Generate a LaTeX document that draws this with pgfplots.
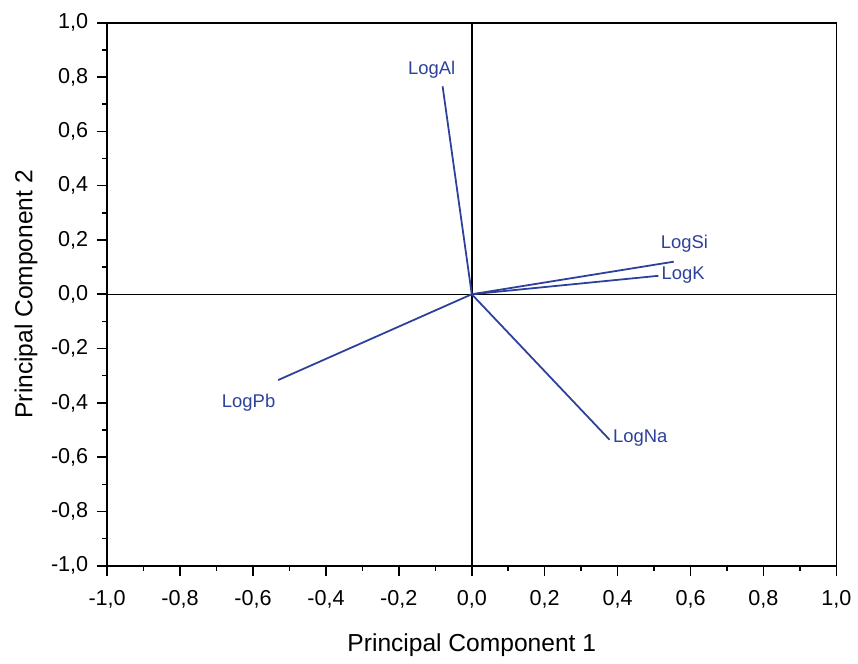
\documentclass[border=0pt]{standalone}
\usepackage{fontspec}
\setmainfont{Liberation Sans}
\usepackage{pgfplots}
\pgfplotsset{compat=1.18}
\definecolor{vec}{RGB}{45,65,155}
\begin{document}
\begin{tikzpicture}
\begin{axis}[
  name=ax,
  width=368pt, height=274pt, scale only axis,
  xmin=-1, xmax=1, ymin=-1, ymax=1,
  xtick={-1,-0.8,-0.6,-0.4,-0.2,0,0.2,0.4,0.6,0.8,1},
  ytick={-1,-0.8,-0.6,-0.4,-0.2,0,0.2,0.4,0.6,0.8,1},
  minor x tick num=1, minor y tick num=1,
  tick align=outside, xtick pos=lower, ytick pos=left,
  major tick length=5pt, minor tick length=2.5pt,
  tick style={black, line width=0.8pt},
  axis line style={line width=0.9pt},
  /pgf/number format/.cd, fixed, fixed zerofill, precision=1, use comma,
  assume math mode=true, /pgfplots/.cd,
  ticklabel style={font=\fontsize{10.9}{12}\selectfont},
  xticklabel style={yshift=-4pt},
  yticklabel style={xshift=-1pt},
  label style={font=\fontsize{12.4}{14}\selectfont},
  xlabel={Principal Component 1},
  ylabel={Principal Component 2},
  xlabel style={yshift=-6pt},
  ylabel style={yshift=0pt},
  clip=false,
]
\draw[black, line width=0.75pt] (axis cs:0,-1) -- (axis cs:0,1);
\draw[black, line width=0.75pt] (axis cs:-1,0) -- (axis cs:1,0);
\addplot[vec, line width=0.9pt] coordinates {(0,0) (-0.080,0.766)};
\addplot[vec, line width=0.9pt] coordinates {(0,0) (0.554,0.120)};
\addplot[vec, line width=0.9pt] coordinates {(0,0) (0.512,0.068)};
\addplot[vec, line width=0.9pt] coordinates {(0,0) (-0.531,-0.316)};
\addplot[vec, line width=0.9pt] coordinates {(0,0) (0.378,-0.536)};
\begin{scope}[every node/.style={text=vec, font=\fontsize{9.3}{11}\selectfont, inner sep=0pt}]
\node at (axis cs:-0.110,0.828) {LogAl};
\node at (axis cs:0.583,0.185) {LogSi};
\node at (axis cs:0.580,0.071) {LogK};
\node at (axis cs:-0.612,-0.400) {LogPb};
\node at (axis cs:0.462,-0.528) {LogNa};
\end{scope}
\end{axis}
\path ([yshift=11.5pt]ax.north);
\path ([xshift=-4pt]ax.outer west);
\end{tikzpicture}
\end{document}
